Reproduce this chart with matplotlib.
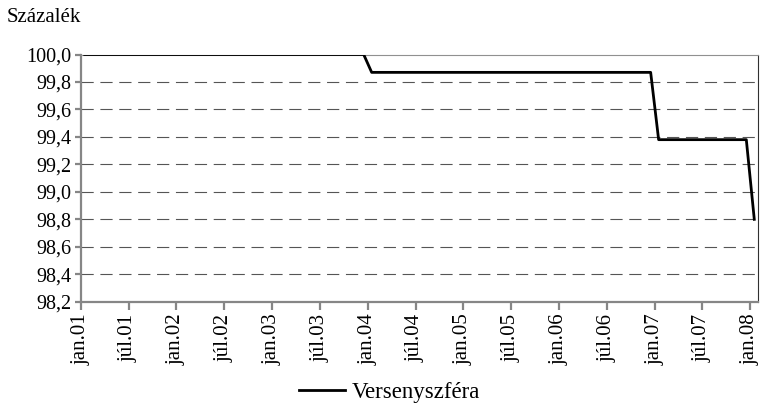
import numpy as np
import matplotlib
matplotlib.use('Agg')
import matplotlib.pyplot as plt

# Monthly index values, jan.01 .. jan.08 (percent)
vals_2001 = [100.0, 100.0, 100.0, 100.0, 100.0, 100.0, 100.0, 100.0, 100.0, 100.0, 100.0, 100.0]
vals_2002 = [100.0, 100.0, 100.0, 100.0, 100.0, 100.0, 100.0, 100.0, 100.0, 100.0, 100.0, 100.0]
vals_2003 = [100.0, 100.0, 100.0, 100.0, 100.0, 100.0, 100.0, 100.0, 100.0, 100.0, 100.0, 100.0]
vals_2004 = [99.87, 99.87, 99.87, 99.87, 99.87, 99.87, 99.87, 99.87, 99.87, 99.87, 99.87, 99.87]
vals_2005 = [99.87, 99.87, 99.87, 99.87, 99.87, 99.87, 99.87, 99.87, 99.87, 99.87, 99.87, 99.87]
vals_2006 = [99.87, 99.87, 99.87, 99.87, 99.87, 99.87, 99.87, 99.87, 99.87, 99.87, 99.87, 99.87]
vals_2007 = [99.38, 99.38, 99.38, 99.38, 99.38, 99.38, 99.38, 99.38, 99.38, 99.38, 99.38, 99.38]
vals_2008 = [98.80]
values = vals_2001 + vals_2002 + vals_2003 + vals_2004 + vals_2005 + vals_2006 + vals_2007 + vals_2008

tick_labels = ['jan.01', 'júl.01', 'jan.02', 'júl.02', 'jan.03', 'júl.03', 'jan.04', 'júl.04',
               'jan.05', 'júl.05', 'jan.06', 'júl.06', 'jan.07', 'júl.07', 'jan.08']
y_ticks = [98.2, 98.4, 98.6, 98.8, 99.0, 99.2, 99.4, 99.6, 99.8, 100.0]
series_name = 'Versenyszféra'

plt.rcParams['font.family'] = ['Liberation Serif', 'DejaVu Serif']

fig = plt.figure(figsize=(7.63, 4.05), dpi=100)
ax = fig.add_axes([0.1058, 0.255, 0.888, 0.6104])

x = np.arange(len(values)) + 0.5
ax.plot(x, values, color='black', linewidth=2.0, label=series_name, zorder=3)

ax.set_xlim(0, len(values))
ax.set_ylim(98.2, 100.0)

ax.set_yticks(y_ticks)
ax.set_yticklabels([('%.1f' % v).replace('.', ',') for v in y_ticks], fontsize=14.5)
ax.set_xticks(np.arange(0, len(values), 6))
ax.set_xticklabels(tick_labels, rotation=90, fontsize=15)

for v in y_ticks[1:-1]:
    ax.axhline(v, color='#555555', linewidth=0.8, dashes=(11, 6), zorder=1)

for s in ['left', 'bottom']:
    ax.spines[s].set_color('#868686')
    ax.spines[s].set_linewidth(1.6)
ax.spines['top'].set_color('#909090')
ax.spines['top'].set_linewidth(0.8)
ax.spines['right'].set_color('#303030')
ax.spines['right'].set_linewidth(0.8)

ax.tick_params(axis='y', direction='out', length=4, width=1.6, color='#868686', pad=3)
ax.tick_params(axis='x', direction='out', length=5.5, width=1.6, color='#868686', pad=3)

fig.text(7 / 763, 1 - 18 / 405, 'Százalék', fontsize=15, va='center', ha='left')

fig.legend(loc='center', bbox_to_anchor=(390 / 763, 1 - 392 / 405), frameon=False,
           fontsize=16.5, handlelength=2.0, handletextpad=0.3)

fig.savefig('out.png', dpi=100)
